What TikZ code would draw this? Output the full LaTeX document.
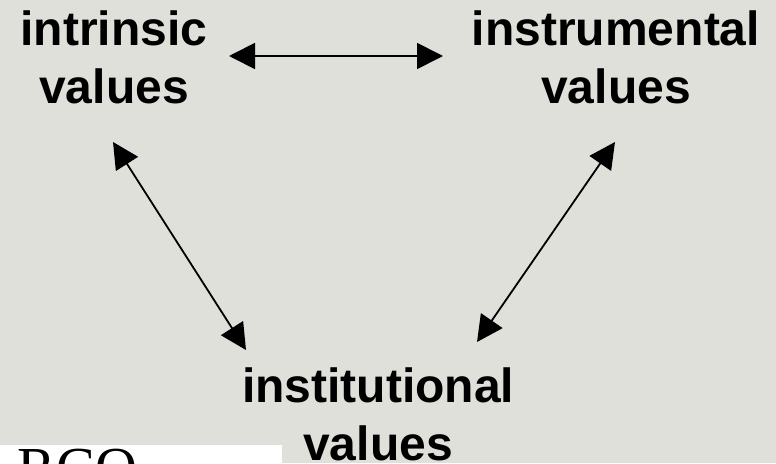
\documentclass[tikz,border=0pt]{standalone}
\usepackage{fontspec}
\setmainfont{Liberation Sans}
\newfontfamily\logofont{Liberation Serif}
\usetikzlibrary{arrows.meta}
\definecolor{slidegrey}{HTML}{DFE0DA}
\begin{document}
\begin{tikzpicture}[x=1pt, y=-1pt, <->, >={Triangle[length=26pt, width=26pt]}, line width=1.8pt,
	value/.style={align=center, font=\fontsize{48}{58}\selectfont\bfseries, inner sep=0pt}]
	\useasboundingbox (0, 0) rectangle (776, 463);
	\fill[slidegrey] (0, 0) rectangle (776, 463);
	\fill[white] (0, 445) rectangle (282, 463);
	\node[font=\logofont\fontsize{58}{58}\selectfont, anchor=base west, inner sep=0pt] (logo) at (17, 487) {RCO};

	\node[value] (intr) at (114, 57) {intrinsic\\values};
	\node[value] (instr) at (616, 57) {instrumental\\values};
	\node[value] (inst) at (378, 414) {institutional\\values};

	\coordinate (a1) at (229, 56);
	\coordinate (a2) at (443, 56);
	\coordinate (b1) at (113, 142);
	\coordinate (b2) at (246, 350);
	\coordinate (c1) at (615, 142);
	\coordinate (c2) at (477, 342);

	\draw (a1) -- (a2);
	\draw (b1) -- (b2);
	\draw (c1) -- (c2);
\end{tikzpicture}
\end{document}
